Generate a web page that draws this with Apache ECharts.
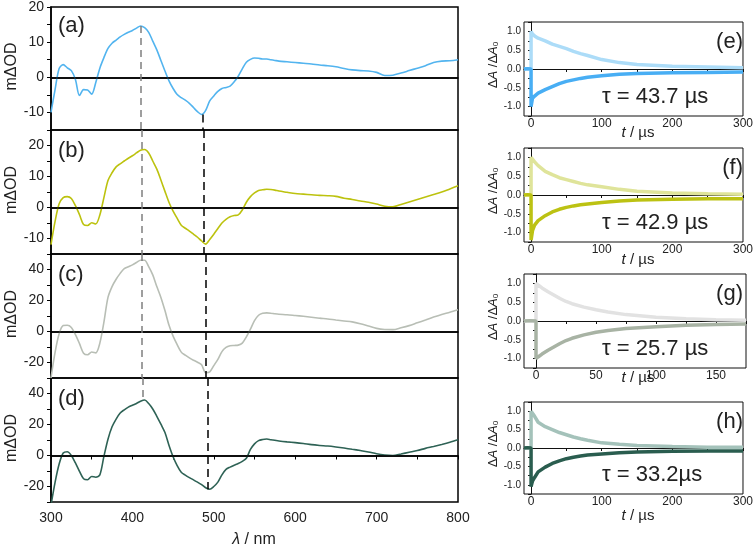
<!DOCTYPE html>
<html><head><meta charset="utf-8">
<script src="https://cdn.jsdelivr.net/npm/echarts@6/dist/echarts.min.js"></script>
<style>html,body{margin:0;padding:0;background:#fff}#c{width:756px;height:547px}</style>
</head><body><div id="c"></div>
<script>
// ---------- Spectra (left panels) ----------
const wavelength = [300,305,310,315,320,325,330,335,340,345,350,355,360,365,370,375,380,385,390,395,400,405,410,415,420,425,430,435,440,445,450,455,460,465,470,475,480,485,490,495,500,505,510,515,520,525,530,535,540,545,550,555,560,565,570,575,580,590,600,610,620,630,640,650,660,670,680,690,700,710,720,730,740,750,760,770,780,790,800];
const specA = [-10,-3.5,2.5,3.6,2.7,1.9,-0.6,-5.2,-3.5,-3.6,-4.8,-1.5,2.6,5.6,8.2,9.7,10.6,11.5,12.2,12.8,13.3,14.0,14.6,14.1,12.8,10.3,7.8,4.8,1.8,-1.0,-3.2,-4.9,-5.8,-6.5,-7.4,-8.6,-9.8,-10.6,-9.4,-6.7,-5.3,-4.0,-3.2,-2.9,-2.5,-1.3,0.3,2.4,4.3,5.1,5.5,5.4,5.2,5.2,5.0,4.8,4.6,4.4,4.2,4.0,3.8,3.5,3.3,3.0,2.5,2.1,1.9,1.8,1.4,0.5,0.6,1.2,1.9,2.6,3.3,4.2,4.6,4.7,5.0];
const specB = [-12,-4.5,1.2,3.2,3.5,2.9,0.6,-2.3,-5.5,-5.8,-4.9,-5.3,-2.4,3.2,8.7,11.2,13.1,14.1,15.0,15.9,16.7,17.6,18.5,18.7,17.6,15.0,12.4,8.9,5.2,1.6,-1.2,-3.5,-5.7,-6.7,-7.6,-8.6,-9.6,-10.8,-11.8,-10.3,-8.6,-6.8,-5.0,-3.8,-3.0,-2.6,-2.4,-0.8,1.7,3.5,4.7,5.5,5.7,5.9,5.8,5.6,5.3,4.9,4.5,4.3,4.1,3.9,3.8,3.6,3.0,2.6,2.1,1.7,1.1,0.4,0.2,1.0,1.8,2.6,3.4,4.2,5.0,6.0,7.0];
const specC = [-30,-13.5,-1.5,3.8,4.0,2.6,-2.0,-7.8,-14.0,-15.0,-13.2,-13.8,-7.5,6.0,22.0,29.0,33.7,37.5,40.5,41.8,43.0,44.5,46.0,46.0,41.8,36.5,29.0,22.0,13.5,4.0,-3.0,-8.5,-13.3,-15.3,-17.0,-18.5,-19.8,-21.5,-26.5,-26.0,-22.0,-18.0,-13.0,-10.3,-9.2,-9.0,-8.8,-7.5,-3.5,1.5,7.0,10.5,11.8,12.0,11.8,11.4,11.1,10.8,10.3,9.8,9.2,8.6,8.1,7.4,6.8,6.2,5.0,3.5,2.0,1.3,1.2,2.4,3.8,5.6,7.4,9.3,11.0,12.4,14.0];
const specD = [-32,-17.3,-5.5,1.6,2.4,0.0,-4.8,-10.2,-15.0,-15.6,-13.5,-14.0,-12.5,-0.6,10.5,18.5,23.5,27.4,29.5,31.2,32.4,33.6,35.0,35.8,33.5,30.0,25.3,20.2,14.8,6.5,-0.8,-6.5,-10.8,-12.7,-14.3,-15.7,-17.2,-18.8,-20.8,-21.8,-20.0,-17.2,-12.5,-9.0,-7.5,-6.3,-5.2,-3.8,-1.8,3.9,7.5,9.6,10.3,10.6,10.2,9.8,9.4,8.8,8.3,7.7,7.0,6.5,6.1,5.5,4.8,4.0,3.2,2.3,1.1,0.3,0.0,1.0,2.1,3.2,4.6,5.8,7.1,8.5,10.1];
// peak / bleach guide positions (nm) per panel a..d
const peakGuideNm = [410, 411, 412, 413];
const bleachGuideNm = [486, 488, 490, 492];
const peakValues = [14.6, 18.7, 46.0, 35.8];
const bleachValues = [-10.6, -11.8, -28.0, -21.8];
const yRangesLeft = [[-15, 20], [-15, 25], [-30, 50], [-30, 50]];
const yTickStepLeft = [5, 5, 10, 10];
const yLabelStepLeft = [10, 10, 20, 20];
const xTicksLeft = [300,400,500,600,700,800];

// ---------- Kinetics (right panels) ----------
const tLong = [-10,-5,0,0,2,5,10,20,30,40,50,60,70,80,100,125,150,200,250,300];
const tShort = [-10,-5,0,0,2,5,10,20,25,30,40,50,60,75,100,125,150,175];
const kinLightE = [0,0,0,1.0,0.93,0.88,0.82,0.75,0.66,0.6,0.54,0.47,0.41,0.36,0.25,0.17,0.12,0.07,0.05,0.03];
const kinDarkE  = [0,0.01,0,-1.0,-0.78,-0.72,-0.64,-0.55,-0.47,-0.39,-0.33,-0.29,-0.25,-0.22,-0.18,-0.14,-0.12,-0.1,-0.09,-0.08];
const kinLightF = [0,0,0,1.0,0.95,0.88,0.78,0.63,0.54,0.46,0.41,0.36,0.31,0.27,0.22,0.15,0.1,0.05,0.03,0.02];
const kinDarkF  = [0,0.01,0,-1.2,-0.95,-0.8,-0.68,-0.55,-0.45,-0.38,-0.33,-0.29,-0.26,-0.24,-0.2,-0.16,-0.13,-0.11,-0.1,-0.1];
const kinLightG = [0,0,0,1.0,0.95,0.88,0.78,0.6,0.52,0.46,0.37,0.3,0.24,0.17,0.1,0.06,0.03,0.02];
const kinDarkG  = [0,0.01,0,-1.0,-0.95,-0.88,-0.78,-0.6,-0.52,-0.46,-0.37,-0.3,-0.25,-0.2,-0.15,-0.11,-0.09,-0.08];
const kinLightH = [0,0,0,1.0,0.95,0.86,0.7,0.58,0.5,0.42,0.36,0.3,0.25,0.21,0.14,0.1,0.07,0.04,0.02,0.02];
const kinDarkH  = [0,0.01,0,-1.05,-0.9,-0.8,-0.65,-0.52,-0.42,-0.35,-0.29,-0.25,-0.22,-0.19,-0.16,-0.13,-0.11,-0.09,-0.08,-0.08];
const tauLabels = ['τ = 43.7 µs','τ = 42.9 µs','τ = 25.7 µs','τ = 33.2µs'];
const kinXMax = [300, 300, 175, 300];
const kinXLabels = [[0,100,200,300],[0,100,200,300],[0,50,100,150],[0,100,200,300]];
const kinXTicks = [[0,50,100,150,200,250,300],[0,50,100,150,200,250,300],[0,25,50,75,100,125,150,175],[0,50,100,150,200,250,300]];

const specColors = ['#52b4ef','#bcc20e','#b8beb5','#2e6255'];
const darkColors = ['#48aef4','#bcc213','#a8b3a4','#2a5d4f'];
const lightColors = ['#acdcf8','#dfe49a','#e2e2e2','#a4c2ba'];

const FONT = 'Liberation Sans, Arial, sans-serif';
const leftTops = [7,130,254,378], leftH = [123,124,124,124];
const rightTops = [22,148,274,402], rightH = [94,94,94,92];

const zip = (xs, ys) => xs.map((x,i)=>[x, ys[i]]);
const grids = [], xAxes = [], yAxes = [], series = [], graphics = [];
const specs = [specA, specB, specC, specD];
const letters = ['(a)','(b)','(c)','(d)'];
const isMult = (v, s) => Math.abs(v/s - Math.round(v/s)) < 1e-6;

for (let i=0;i<4;i++){
  const [ymin, ymax] = yRangesLeft[i];
  grids.push({left:51, width:407, top:leftTops[i], height:leftH[i], show:true, borderColor:'#000', borderWidth:1.5, backgroundColor:'transparent'});
  xAxes.push({type:'value', gridIndex:i, min:300, max:800, interval:50,
    axisLine:{show:true, lineStyle:{color:'#000', width:1.5}},
    axisTick:{show:i===3, length:4, lineStyle:{color:'#000', width:1}},
    axisLabel:{show:i===3, margin:9, fontFamily:FONT, fontSize:14, color:'#222',
      formatter:v=> xTicksLeft.includes(v) ? String(v) : ''},
    splitLine:{show:false}});
  yAxes.push({type:'value', gridIndex:i, min:ymin, max:ymax, interval:yTickStepLeft[i],
    axisLine:{show:true, lineStyle:{color:'#000', width:1.5}},
    axisTick:{show:true, length:4, lineStyle:{color:'#000'}},
    axisLabel:{margin:7, fontFamily:FONT, fontSize:14, color:'#222', hideOverlap:false,
      formatter:v=> (isMult(v, yLabelStepLeft[i]) && v < ymax - 1e-6 + (i===0?1:0)) ? String(v) : ''},
    splitLine:{show:false}});
  const gray = {type:[7,5], color:'#7f7f7f', width:1.5};
  const black = {type:[8,5], color:'#000', width:1.5};
  const grayTop = (i===0) ? peakValues[0] : ymax;
  const grayBot = (i===3) ? peakValues[3] : ymin;
  const blackTop = (i===0) ? bleachValues[0] : ymax;
  const blackBot = (i===3) ? bleachValues[3] : ymin;
  series.push({type:'line', xAxisIndex:i, yAxisIndex:i, data:zip(wavelength, specs[i]),
    showSymbol:false, smooth:0.3, lineStyle:{color:specColors[i], width:1.6}, z:3,
    markLine:{silent:true, symbol:['none','none'], label:{show:false}, animation:false,
      data:[
        {yAxis:0, lineStyle:{color:'#000', width:1.5, type:'solid'}},
        [{coord:[peakGuideNm[i], grayTop], lineStyle:gray},{coord:[peakGuideNm[i], grayBot], lineStyle:gray}],
        [{coord:[bleachGuideNm[i], blackTop], lineStyle:black},{coord:[bleachGuideNm[i], blackBot], lineStyle:black}]
      ]}});
  graphics.push({type:'text', left:58, top:leftTops[i] + (i===0?8:10), style:{text:letters[i], font:'22px '+FONT, fill:'#222'}});
  graphics.push({type:'text', x:12, y:leftTops[i]+leftH[i]/2-2, rotation:Math.PI/2,
    style:{text:'mΔOD', font:'16px '+FONT, fill:'#222', align:'center', verticalAlign:'middle'}});
}
graphics.push({type:'text', x:254, y:540, style:{text:'{i|λ} / nm', align:'center', verticalAlign:'middle', font:'16px '+FONT, fill:'#222',
  rich:{i:{fontStyle:'italic', fontSize:16, fontFamily:FONT, fill:'#222'}}}});

const kinL = [kinLightE, kinLightF, kinLightG, kinLightH];
const kinD = [kinDarkE, kinDarkF, kinDarkG, kinDarkH];
const kinT = [tLong, tLong, tShort, tLong];
const rLetters = ['(e)','(f)','(g)','(h)'];
const tNameY = [133, 260, 378, 516];
for (let j=0;j<4;j++){
  const gi = 4+j;
  grids.push({left:524, right:10, top:rightTops[j], height:rightH[j], show:true, borderColor:'#111', borderWidth:1, backgroundColor:'transparent'});
  xAxes.push({type:'value', gridIndex:gi, min:-10, max:kinXMax[j],
    axisLine:{show:true, lineStyle:{color:'#111', width:1}},
    axisTick:{show:true, length:3, customValues:kinXTicks[j], lineStyle:{color:'#111'}},
    axisLabel:{customValues:kinXLabels[j], margin:2, fontFamily:FONT, fontSize:12, color:'#222'},
    splitLine:{show:false}});
  yAxes.push({type:'value', gridIndex:gi, min:-1.25, max:1.25, interval:0.25,
    axisLine:{show:true, lineStyle:{color:'#111', width:1}},
    axisTick:{show:true, length:3, lineStyle:{color:'#111'}},
    axisLabel:{margin:3, fontFamily:FONT, fontSize:10, color:'#222', hideOverlap:false,
      formatter:v=> (isMult(v,0.5) && Math.abs(v) <= 1.0001) ? v.toFixed(1) : ''},
    splitLine:{show:false}});
  series.push({type:'line', xAxisIndex:gi, yAxisIndex:gi, data:zip(kinT[j], kinL[j]), showSymbol:false,
    lineStyle:{color:lightColors[j], width:3.5}, z:2});
  series.push({type:'line', xAxisIndex:gi, yAxisIndex:gi, data:zip(kinT[j], kinD[j]), showSymbol:false,
    lineStyle:{color:darkColors[j], width:3.5}, z:3});
  graphics.push({type:'text', x:743, y:rightTops[j]+20, style:{text:rLetters[j], font:'22px '+FONT, fill:'#222', align:'right', verticalAlign:'middle'}});
  graphics.push({type:'text', x:602, y:rightTops[j]+rightH[j]-19, style:{text:tauLabels[j], font:'22px '+FONT, fill:'#222', align:'left', verticalAlign:'middle'}});
  graphics.push({type:'text', x:638, y:tNameY[j], style:{text:'{i|t} / µs', align:'center', verticalAlign:'middle', font:'15px '+FONT, fill:'#222',
    rich:{i:{fontStyle:'italic', fontSize:15, fontFamily:FONT, fill:'#222'}}}});
  graphics.push({type:'text', x:493, y:rightTops[j]+rightH[j]/2-4, rotation:Math.PI/2,
    style:{text:'Δ{i|A} /Δ{i|A}{s|0}', align:'center', verticalAlign:'middle', font:'13px '+FONT, fill:'#222',
      rich:{i:{fontStyle:'italic', fontSize:13, fontFamily:FONT, fill:'#222'}, s:{fontSize:8, fontFamily:FONT, fill:'#222', padding:[6,0,0,0]}}}});
}

const chart = echarts.init(document.getElementById('c'), null, {renderer:'canvas'});
chart.setOption({animation:false, backgroundColor:'#fff', grid:grids, xAxis:xAxes, yAxis:yAxes, series:series, graphic:graphics});
</script></body></html>
